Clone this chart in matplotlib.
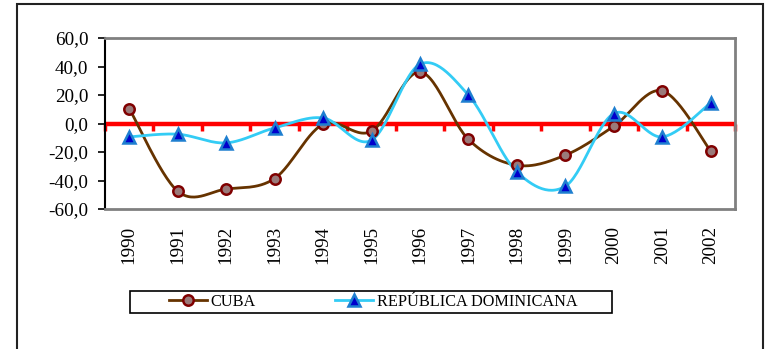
import numpy as np
import matplotlib
matplotlib.use('Agg')
import matplotlib.pyplot as plt
from matplotlib.patches import Rectangle
from matplotlib.lines import Line2D

years = ['1990', '1991', '1992', '1993', '1994', '1995', '1996',
         '1997', '1998', '1999', '2000', '2001', '2002']
cuba = [10.5, -47.5, -46.0, -38.6, -0.5, -5.4, 36.2, -11.2, -29.3, -22.2, -1.9, 22.9, -19.4]
rep_dom = [-9.4, -7.5, -13.6, -3.1, 3.9, -11.7, 41.6, 19.9, -34.0, -44.0, 7.0, -9.4, 14.5]
y_ticks = [-60, -40, -20, 0, 20, 40, 60]

plt.rcParams['font.family'] = 'serif'
plt.rcParams['font.serif'] = ['Liberation Serif', 'Times New Roman', 'DejaVu Serif']
W, H = 766, 349


def smooth(xs, ys, n=30):
    # excel-like smoothing: bezier segments with catmull-rom control points
    xs = np.asarray(xs, float)
    ys = np.asarray(ys, float)
    px = np.concatenate([[xs[0]], xs, [xs[-1]]])
    py = np.concatenate([[ys[0]], ys, [ys[-1]]])
    out_x, out_y = [], []
    t = np.linspace(0, 1, n)
    for i in range(1, len(px) - 2):
        p0 = np.array([px[i], py[i]])
        p3 = np.array([px[i + 1], py[i + 1]])
        c1 = p0 + (np.array([px[i + 1], py[i + 1]]) - np.array([px[i - 1], py[i - 1]])) / 6
        c2 = p3 - (np.array([px[i + 2], py[i + 2]]) - np.array([px[i], py[i]])) / 6
        b = ((1 - t) ** 3)[:, None] * p0 + (3 * (1 - t) ** 2 * t)[:, None] * c1 \
            + (3 * (1 - t) * t ** 2)[:, None] * c2 + (t ** 3)[:, None] * p3
        out_x.extend(b[:, 0])
        out_y.extend(b[:, 1])
    return out_x, out_y


fig = plt.figure(figsize=(W / 100, H / 100), dpi=100)
ax = fig.add_axes([105 / W, 1 - 209 / H, 630 / W, 171 / H])

x = np.arange(len(years))
cuba_col = '#663300'
rd_col = '#33CCF5'

ax.axhline(0, color='#FF0000', lw=3.2, zorder=2)
ax.vlines(np.arange(len(years) + 1) - 0.5, -5, 0, color='#FF0000', lw=2.5, zorder=2, clip_on=False)

sx, sy = smooth(x, cuba)
ax.plot(sx, sy, color=cuba_col, lw=2, zorder=3)
sx, sy = smooth(x, rep_dom)
ax.plot(sx, sy, color=rd_col, lw=2, zorder=3)
ax.plot(x, cuba, ls='none', marker='o', ms=7.5, mfc='#9A7A7A', mec='#800000', mew=1.8, zorder=4)
ax.plot(x, rep_dom, ls='none', marker='^', ms=8.5, mfc='#0000CC', mec='#1E7FD0', mew=1.8, zorder=5)

ax.set_xlim(-0.5, len(years) - 0.5)
ax.set_ylim(-60, 60)
ax.set_yticks(y_ticks)
ax.set_yticklabels([f'{v:.1f}'.replace('.', ',') for v in y_ticks], fontsize=13.8)
ax.set_xticks(x)
ax.set_xticklabels(years, rotation=90, fontsize=13.8)
ax.tick_params(axis='x', length=0, pad=12)
ax.tick_params(axis='y', length=5, width=1.2, color='black', pad=7)

for s in ['top', 'right', 'bottom']:
    ax.spines[s].set_color('#808080')
    ax.spines[s].set_linewidth(2)
ax.spines['left'].set_color('black')
ax.spines['left'].set_linewidth(1.5)

# legend with separate frame
handles = [
    Line2D([], [], color=cuba_col, lw=2, marker='o', ms=7.5, mfc='#9A7A7A', mec='#800000', mew=1.8),
    Line2D([], [], color=rd_col, lw=2, marker='^', ms=8.5, mfc='#0000CC', mec='#1E7FD0', mew=1.8),
]
fig.legend(handles, ['CUBA', 'REPÚBLICA DOMINICANA'], ncol=2, frameon=False,
           loc='center', bbox_to_anchor=(373 / W, 1 - 302 / H), fontsize=11.7,
           handlelength=2.35, handletextpad=0.2, columnspacing=4.9, borderpad=0)
fig.patches.append(Rectangle((130 / W, 1 - 313 / H), 482 / W, 22 / H, transform=fig.transFigure,
                             fill=False, ec='black', lw=1.2))
fig.patches.append(Rectangle((17 / W, -0.1), 746 / W, 1.1 - 4 / H, transform=fig.transFigure,
                             fill=False, ec='#222222', lw=1.5))

fig.savefig('out.png', dpi=100)
